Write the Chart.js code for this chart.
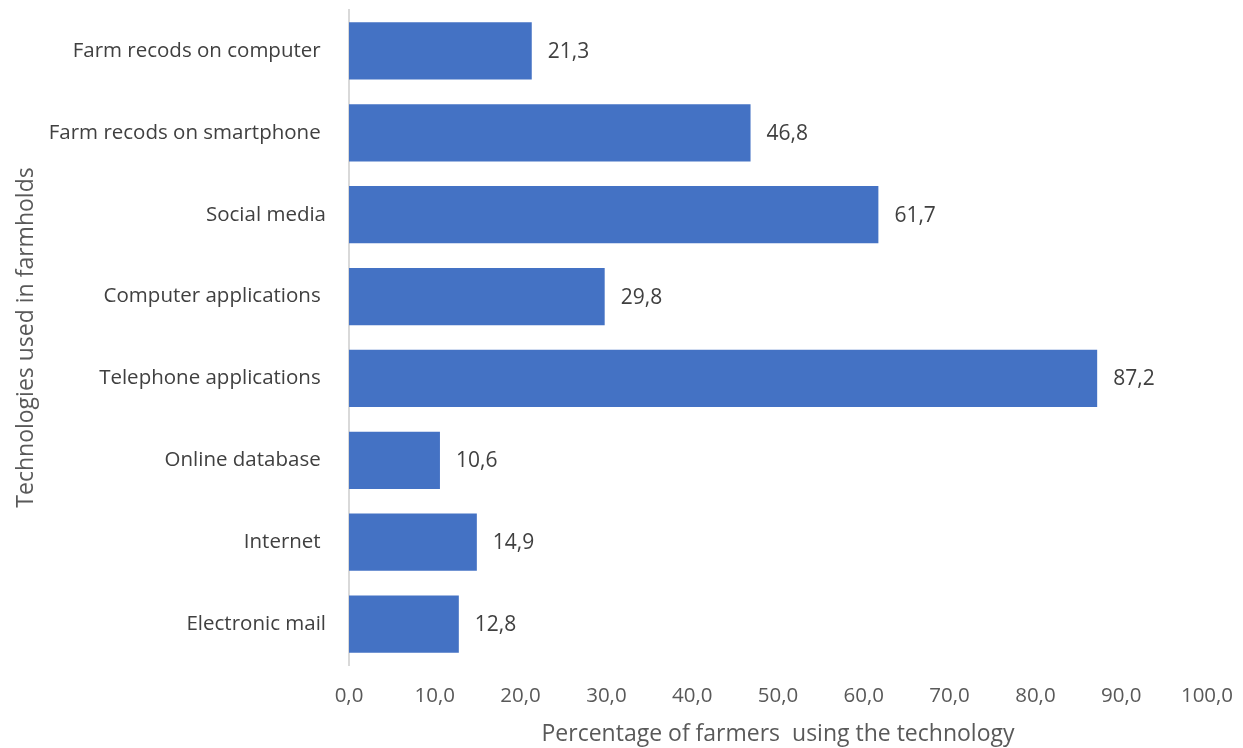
<!DOCTYPE html>
<html>
<head>
<meta charset="utf-8">
<script src="https://cdn.jsdelivr.net/npm/chart.js@4"></script>
<style>
  html, body { margin: 0; padding: 0; background: #fff; }
  #wrap { width: 1243px; height: 748px; }
</style>
</head>
<body>
<div id="wrap"><canvas id="myChart" width="1243" height="748"></canvas></div>
<script>
// data
var categories = [
    'Farm recods on computer ',
    'Farm recods on smartphone ',
    'Social media',
    'Computer applications ',
    'Telephone applications ',
    'Online database ',
    'Internet ',
    'Electronic mail'
];
var values = [21.3, 46.8, 61.7, 29.8, 87.2, 10.6, 14.9, 12.8];
var xTicks = [0, 10, 20, 30, 40, 50, 60, 70, 80, 90, 100];

function comma(v) {
    return v.toFixed(1).replace('.', ',');
}

// values next to the bars
const barLabels = {
    id: 'barLabels',
    afterDatasetsDraw(chart) {
        const ctx = chart.ctx;
        const meta = chart.getDatasetMeta(0);
        ctx.save();
        ctx.font = '21px "Open Sans"';
        ctx.fillStyle = '#404040';
        ctx.textBaseline = 'middle';
        ctx.textAlign = 'left';
        meta.data.forEach(function (bar, i) {
            ctx.fillText(comma(values[i]), bar.x + 16, bar.y + 1);
        });
        ctx.restore();
    }
};

const ctx = document.getElementById('myChart');
const myChart = new Chart(ctx, {
    type: 'bar',
    data: {
        labels: categories,
        datasets: [{
            data: values,
            backgroundColor: '#4472C4',
            borderWidth: 0,
            categoryPercentage: 0.7,
            barPercentage: 1.0
        }]
    },
    options: {
        indexAxis: 'y',
        responsive: false,
        animation: false,
        layout: { padding: { top: 10, right: 36, left: 0, bottom: 0 } },
        plugins: {
            legend: { display: false },
            tooltip: { enabled: false }
        },
        scales: {
            x: {
                min: 0,
                max: 100,
                afterBuildTicks: function (scale) {
                    scale.ticks = xTicks.map(function (v) { return { value: v }; });
                },
                afterFit: function (scale) {
                    scale.height = 83;
                    scale.paddingLeft = 0;
                    scale.paddingRight = 0;
                },
                grid: { display: false },
                border: { display: false },
                ticks: {
                    color: '#595959',
                    font: { family: 'Open Sans', size: 20.5 },
                    padding: 11,
                    maxRotation: 0,
                    callback: function (v) { return comma(v); }
                },
                title: {
                    display: true,
                    text: 'Percentage of farmers  using the technology',
                    color: '#595959',
                    font: { family: 'Open Sans', size: 23 },
                    padding: { top: 4, bottom: 0 }
                }
            },
            y: {
                afterFit: function (scale) {
                    scale.width = 349;
                    scale.paddingTop = 0;
                    scale.paddingBottom = 0;
                },
                grid: { display: false },
                border: { display: true, color: '#d9d9d9', width: 2 },
                ticks: {
                    color: '#404040',
                    font: { family: 'Open Sans', size: 20.5 },
                    padding: 15
                },
                title: {
                    display: true,
                    text: 'Technologies used in farmholds',
                    color: '#595959',
                    font: { family: 'Open Sans', size: 23 },
                    padding: { top: 13, bottom: 0 }
                }
            }
        }
    },
    plugins: [barLabels]
});
</script>
</body>
</html>
